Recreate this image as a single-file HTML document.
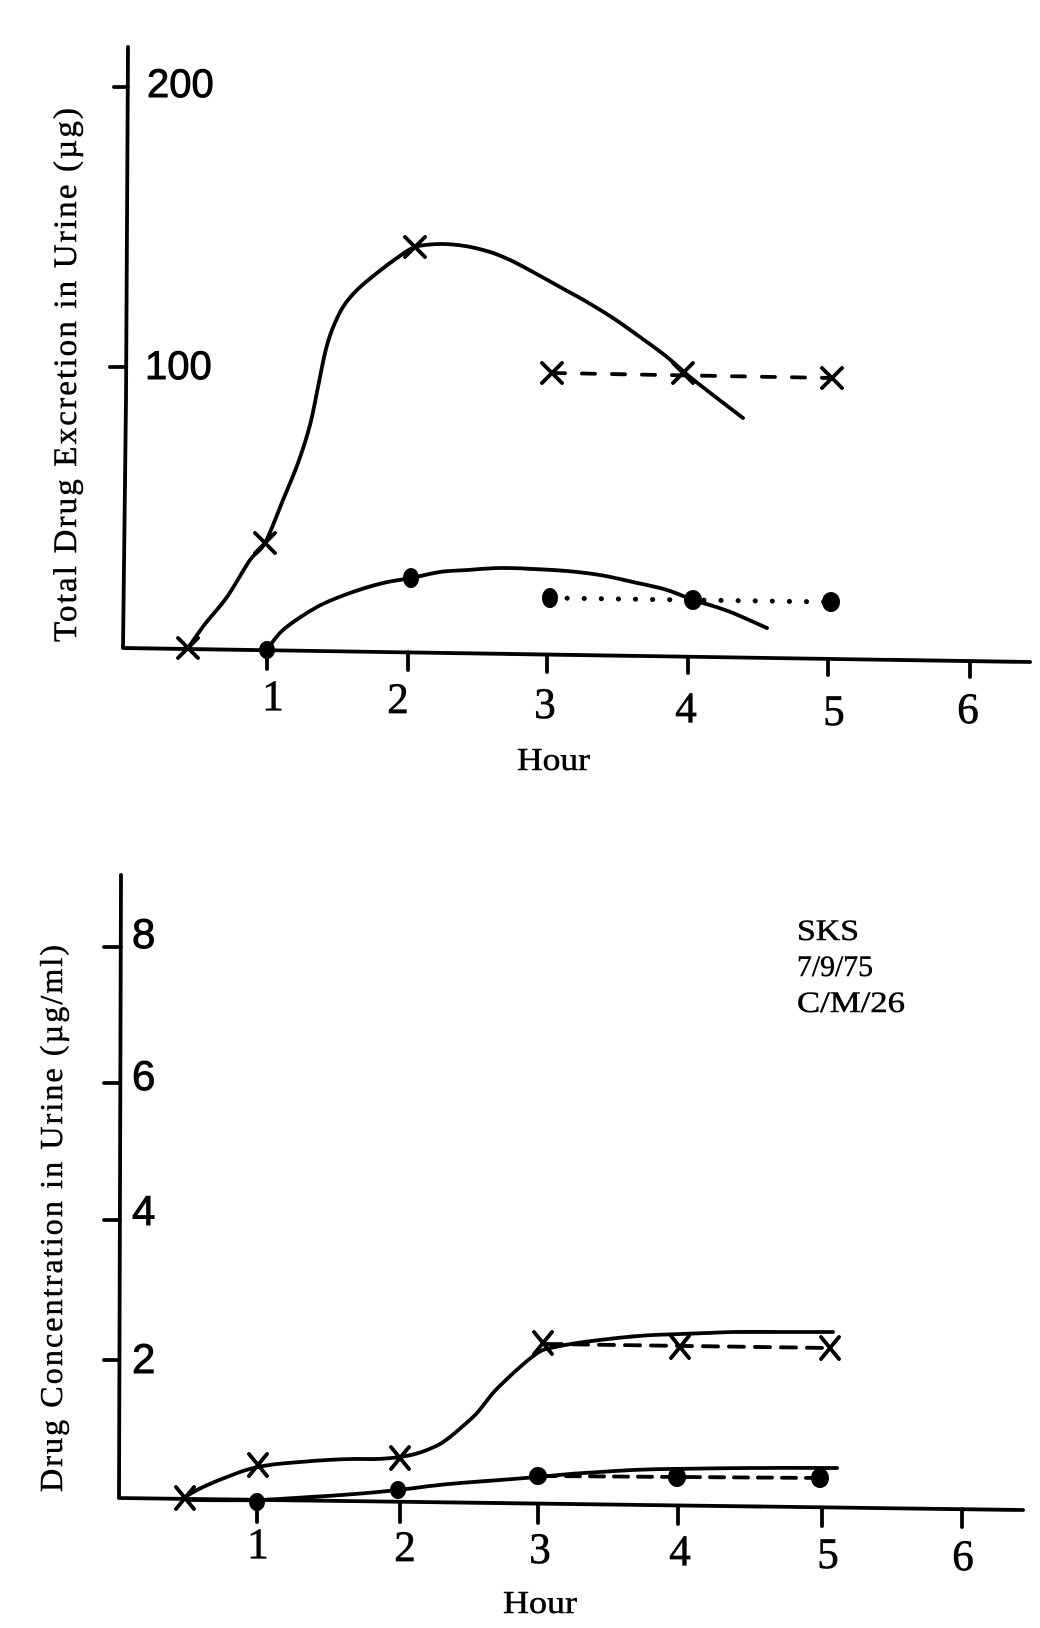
<!DOCTYPE html>
<html>
<head>
<meta charset="utf-8">
<style>
html,body{margin:0;padding:0;background:#fff;}
svg{display:block;}
.ax{stroke:#000;stroke-width:3.8;fill:none;stroke-linecap:round;stroke-linejoin:round;}
.cv{stroke:#000;stroke-width:3.8;fill:none;stroke-linecap:round;stroke-linejoin:round;}
.mk{stroke:#000;stroke-width:3.8;stroke-linecap:round;}
.sans{font-family:"Liberation Sans",sans-serif;fill:#000;stroke:#000;stroke-width:0.9;}
.serif{font-family:"Liberation Serif",serif;fill:#000;stroke:#000;stroke-width:0.7;}
.ttl{font-family:"Liberation Serif",serif;fill:#000;stroke:#000;stroke-width:0.5;}
</style>
</head>
<body>
<svg id="chart" width="1040" height="1628" viewBox="0 0 1040 1628" xmlns="http://www.w3.org/2000/svg">
<rect width="1040" height="1628" fill="#fff"/>

<!-- ================= TOP CHART ================= -->
<polyline class="ax" points="128,47 126,400 123,648 1030,662"/>
<line class="ax" x1="114" y1="87" x2="128" y2="87"/>
<line class="ax" x1="110" y1="367" x2="126" y2="367"/>
<line class="ax" x1="267" y1="650" x2="267" y2="669"/>
<line class="ax" x1="408" y1="652" x2="408" y2="670"/>
<line class="ax" x1="547" y1="655" x2="547" y2="672"/>
<line class="ax" x1="688" y1="657" x2="688" y2="673"/>
<line class="ax" x1="828" y1="659" x2="828" y2="675"/>
<line class="ax" x1="970" y1="661" x2="970" y2="677"/>

<text class="sans" x="147" y="97" font-size="40">200</text>
<text class="sans" x="145" y="379" font-size="40">100</text>

<text class="serif" x="273" y="710" font-size="43" text-anchor="middle">1</text>
<text class="serif" x="398" y="713" font-size="43" text-anchor="middle">2</text>
<text class="serif" x="545" y="718" font-size="43" text-anchor="middle">3</text>
<text class="serif" x="686" y="722" font-size="43" text-anchor="middle">4</text>
<text class="serif" x="834" y="725" font-size="43" text-anchor="middle">5</text>
<text class="serif" x="968" y="723" font-size="43" text-anchor="middle">6</text>

<text class="ttl" x="517" y="770" font-size="32" textLength="73" lengthAdjust="spacingAndGlyphs">Hour</text>

<text class="ttl" font-size="33" transform="translate(76,642) rotate(-90)" textLength="534" lengthAdjust="spacing">Total Drug Excretion in Urine (µg)</text>

<polyline class="cv smooth" points="188,648 205,624 227,597 250,560 265,543 283,500 298,463 310,425 318,387 325,353 332,330 343,307 357,290 377,273 397,258 415,247 440,244 465,246 490,252 510,260 533,272 560,287 587,302 613,318 640,337 667,357 690,377 713,395 743,418"/>
<line class="cv" x1="552" y1="373" x2="832" y2="378" stroke-dasharray="13 17" stroke-linecap="butt"/>

<polyline class="cv smooth" points="267,650 283,630 317,607 350,593 383,583 411,578 440,572 467,570 500,568 533,569 567,571 600,575 633,582 667,590 693,600 713,606 733,613 767,628"/>
<line x1="550" y1="598" x2="833" y2="602" stroke="#000" stroke-width="5" stroke-dasharray="0.1 17" stroke-linecap="round"/>

<g class="mk">
<path d="M178,638 L198,658 M198,638 L178,658"/>
<path d="M255,533 L275,553 M275,533 L255,553"/>
<path d="M405,237 L425,257 M425,237 L405,257"/>
<path d="M542,363 L562,383 M562,363 L542,383"/>
<path d="M673,363 L693,383 M693,363 L673,383"/>
<path d="M822,368 L842,388 M842,368 L822,388"/>
</g>
<g fill="#000">
<ellipse cx="267" cy="650" rx="8" ry="9"/>
<ellipse cx="411" cy="578" rx="8" ry="10"/>
<ellipse cx="550" cy="598" rx="8" ry="10"/>
<ellipse cx="693" cy="600" rx="9" ry="10"/>
<ellipse cx="831" cy="602" rx="9" ry="10"/>
</g>

<!-- ================= BOTTOM CHART ================= -->
<polyline class="ax" points="121,875 119,1498 1023,1510"/>
<line class="ax" x1="104" y1="947" x2="121" y2="947"/>
<line class="ax" x1="104" y1="1083" x2="120" y2="1083"/>
<line class="ax" x1="104" y1="1220" x2="120" y2="1220"/>
<line class="ax" x1="104" y1="1360" x2="119" y2="1360"/>
<line class="ax" x1="257" y1="1500" x2="257" y2="1522"/>
<line class="ax" x1="400" y1="1502" x2="400" y2="1522"/>
<line class="ax" x1="538" y1="1504" x2="538" y2="1523"/>
<line class="ax" x1="678" y1="1506" x2="678" y2="1524"/>
<line class="ax" x1="822" y1="1508" x2="822" y2="1526"/>
<line class="ax" x1="962" y1="1509" x2="962" y2="1527"/>

<text class="sans" x="132" y="948" font-size="42">8</text>
<text class="sans" x="132" y="1090" font-size="42">6</text>
<text class="sans" x="132" y="1225" font-size="42">4</text>
<text class="sans" x="132" y="1373" font-size="42">2</text>

<text class="serif" x="258" y="1558" font-size="43" text-anchor="middle">1</text>
<text class="serif" x="405" y="1561" font-size="43" text-anchor="middle">2</text>
<text class="serif" x="540" y="1563" font-size="43" text-anchor="middle">3</text>
<text class="serif" x="680" y="1565" font-size="43" text-anchor="middle">4</text>
<text class="serif" x="828" y="1568" font-size="43" text-anchor="middle">5</text>
<text class="serif" x="963" y="1570" font-size="43" text-anchor="middle">6</text>

<text class="ttl" x="503" y="1613" font-size="32" textLength="74" lengthAdjust="spacingAndGlyphs">Hour</text>

<text class="ttl" font-size="32" transform="translate(62,1492) rotate(-90)" textLength="547" lengthAdjust="spacing">Drug Concentration in Urine (µg/ml)</text>

<text class="ttl" x="797" y="940" font-size="30" textLength="62" lengthAdjust="spacingAndGlyphs">SKS</text>
<text class="ttl" x="797" y="976" font-size="30" textLength="76" lengthAdjust="spacingAndGlyphs">7/9/75</text>
<text class="ttl" x="797" y="1012" font-size="30" textLength="108" lengthAdjust="spacingAndGlyphs">C/M/26</text>

<polyline class="cv smooth" points="185,1497 197,1490 212,1483 227,1477 243,1471 258,1467 277,1464 300,1462 327,1460 352,1459 377,1459 400,1457 415,1454 427,1450 440,1444 450,1437 463,1426 477,1413 493,1393 507,1379 520,1367 532,1357 543,1350 560,1346 577,1343 600,1340 627,1337 653,1335 680,1334 707,1333 733,1332 783,1332 833,1332"/>
<line class="cv" x1="547" y1="1344" x2="830" y2="1348" stroke-dasharray="15 11" stroke-linecap="butt"/>

<polyline class="cv smooth" points="190,1500 257,1500 310,1497 355,1494 398,1490 430,1486 460,1483 500,1480 538,1477 570,1474 600,1472 633,1470 667,1469 750,1468 837,1468"/>
<line class="cv" x1="542" y1="1476" x2="820" y2="1478" stroke-dasharray="14 10" stroke-linecap="butt"/>

<g class="mk">
<path d="M176,1487 L194,1509 M194,1487 L176,1509"/>
<path d="M249,1454 L267,1476 M267,1454 L249,1476"/>
<path d="M391,1447 L409,1469 M409,1447 L391,1469"/>
<path d="M534,1332 L552,1354 M552,1332 L534,1354"/>
<path d="M671,1336 L689,1358 M689,1336 L671,1358"/>
<path d="M821,1337 L839,1359 M839,1337 L821,1359"/>
</g>
<g fill="#000">
<ellipse cx="257" cy="1502" rx="8" ry="9"/>
<ellipse cx="398" cy="1490" rx="8" ry="9"/>
<ellipse cx="538" cy="1476" rx="9" ry="9"/>
<ellipse cx="677" cy="1477" rx="9" ry="10"/>
<ellipse cx="820" cy="1478" rx="9" ry="10"/>
</g>
</svg>
<script>
(function(){
  var NS="http://www.w3.org/2000/svg";
  var pls=document.querySelectorAll("polyline.smooth");
  for(var k=0;k<pls.length;k++){
    var pl=pls[k];
    var nums=pl.getAttribute("points").trim().split(/[\s,]+/).map(Number);
    var p=[];for(var i=0;i<nums.length;i+=2)p.push([nums[i],nums[i+1]]);
    var d="M"+p[0][0]+","+p[0][1];
    for(var i=0;i<p.length-1;i++){
      var p0=p[i-1]||p[i],p1=p[i],p2=p[i+1],p3=p[i+2]||p[i+1];
      var c1x=p1[0]+(p2[0]-p0[0])/6,c1y=p1[1]+(p2[1]-p0[1])/6;
      var c2x=p2[0]-(p3[0]-p1[0])/6,c2y=p2[1]-(p3[1]-p1[1])/6;
      d+=" C"+c1x.toFixed(1)+","+c1y.toFixed(1)+" "+c2x.toFixed(1)+","+c2y.toFixed(1)+" "+p2[0]+","+p2[1];
    }
    var path=document.createElementNS(NS,"path");
    path.setAttribute("d",d);
    path.setAttribute("class","cv");
    pl.parentNode.replaceChild(path,pl);
  }
})();
</script>
</body>
</html>
